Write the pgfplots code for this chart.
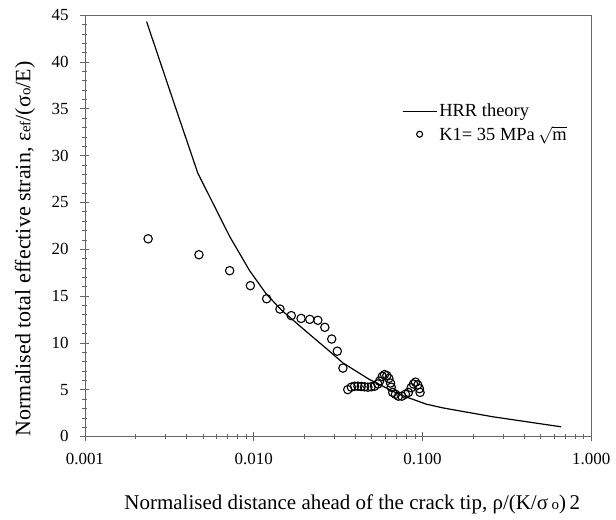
\documentclass[border=0pt]{standalone}
\usepackage{fontspec}
\setmainfont{Liberation Serif}
\usepackage{pgfplots}
\pgfplotsset{compat=1.18}
\pgfplotsset{
    lineleg/.style={legend image code/.code={\draw[##1] (0cm,0cm) -- (1.2cm,0cm);}},
    markleg/.style={legend image code/.code={\draw[##1, mark size=3pt] plot coordinates {(0.6cm,0cm)};}},
}

\begin{document}
\fontsize{17}{20}\selectfont
\begin{tikzpicture}
\begin{axis}[
    scale only axis,
    width=507pt, height=422pt,
    xmode=log,
    xmin=0.001, xmax=1,
    ymin=0, ymax=45,
    xtick={0.001,0.01,0.1,1},
    xticklabels={0.001,0.010,0.100,1.000},
    ytick={0,5,...,45},
    minor ytick={1,2,...,44},
    xtick pos=bottom, ytick pos=left,
    tick align=center,
    major tick length=9pt, minor tick length=5pt,
    every tick/.style={black!60, thin},
    axis line style={black!60, thin},
    /pgf/number format/assume math mode=true,
    ticklabel style={font=\fontsize{17}{20}\selectfont},
    xticklabel style={yshift=-6pt},
    yticklabel style={xshift=-6pt},
    xlabel={Normalised distance ahead of the crack tip, ρ/(K/σ\,{\fontsize{15}{17}\selectfont o})\,2},
    ylabel={Normalised total effective strain, ε{\fontsize{15}{17}\selectfont ef}/(σ{\fontsize{15}{17}\selectfont o}/E)},
    xlabel style={at={(axis description cs:0.528,-0.125)}, anchor=north, font=\fontsize{21}{24}\selectfont},
    ylabel style={at={(axis description cs:-0.087,0.445)}, anchor=south, font=\fontsize{22}{25}\selectfont},
    legend style={at={(axis description cs:0.62,0.80)}, anchor=north west,
        draw=none, fill=none, font=\fontsize{18.5}{21}\selectfont, row sep=3pt},
    legend cell align=left,
]
\addplot[black, line width=1.2pt, lineleg] coordinates {
    (0.00232, 44.3)
    (0.00333, 35.9)
    (0.00467, 28.1)
    (0.00721, 21.35)
    (0.00946, 17.7)
    (0.01189, 15.2)
    (0.01459, 13.5)
    (0.0205, 11.2)
    (0.0269, 9.4)
    (0.0338, 7.85)
    (0.0485, 6.08)
    (0.0731, 4.48)
    (0.1052, 3.45)
    (0.1318, 3.05)
    (0.261, 2.10)
    (0.662, 1.03)
};
\addlegendentry{HRR theory}

\addplot[only marks, mark=o, mark size=4.2pt, black, line width=1.1pt, markleg] coordinates {
    (0.00237, 21.1)
    (0.00474, 19.4)
    (0.00721, 17.7)
    (0.00956, 16.1)
    (0.01194, 14.7)
    (0.01432, 13.6)
    (0.0167, 12.9)
    (0.0191, 12.6)
    (0.0215, 12.5)
    (0.0240, 12.4)
    (0.0264, 11.65)
    (0.0290, 10.4)
    (0.0313, 9.1)
    (0.0338, 7.3)
    (0.0361, 5.0)
    (0.0379, 5.26)
    (0.0396, 5.36)
    (0.0415, 5.36)
    (0.0434, 5.33)
    (0.0454, 5.3)
    (0.0475, 5.26)
    (0.0497, 5.3)
    (0.0520, 5.36)
    (0.0544, 5.6)
    (0.0557, 5.9)
    (0.0578, 6.4)
    (0.0596, 6.6)
    (0.0615, 6.5)
    (0.0632, 6.2)
    (0.0647, 5.7)
    (0.0653, 5.26)
    (0.0667, 4.7)
    (0.0692, 4.5)
    (0.0721, 4.3)
    (0.0755, 4.3)
    (0.0793, 4.5)
    (0.0826, 4.7)
    (0.0857, 5.2)
    (0.0885, 5.6)
    (0.0909, 5.8)
    (0.0938, 5.5)
    (0.0960, 5.1)
    (0.0968, 4.7)
};
\addlegendentry{K1= 35 MPa\,$\sqrt{\mathrm{m}}$}
\end{axis}
% keep the page margins of the reference
\path (current axis.south west) ++(-85pt,-83pt);
\path (current axis.north east) ++(24pt,15pt);
\end{tikzpicture}
\end{document}
